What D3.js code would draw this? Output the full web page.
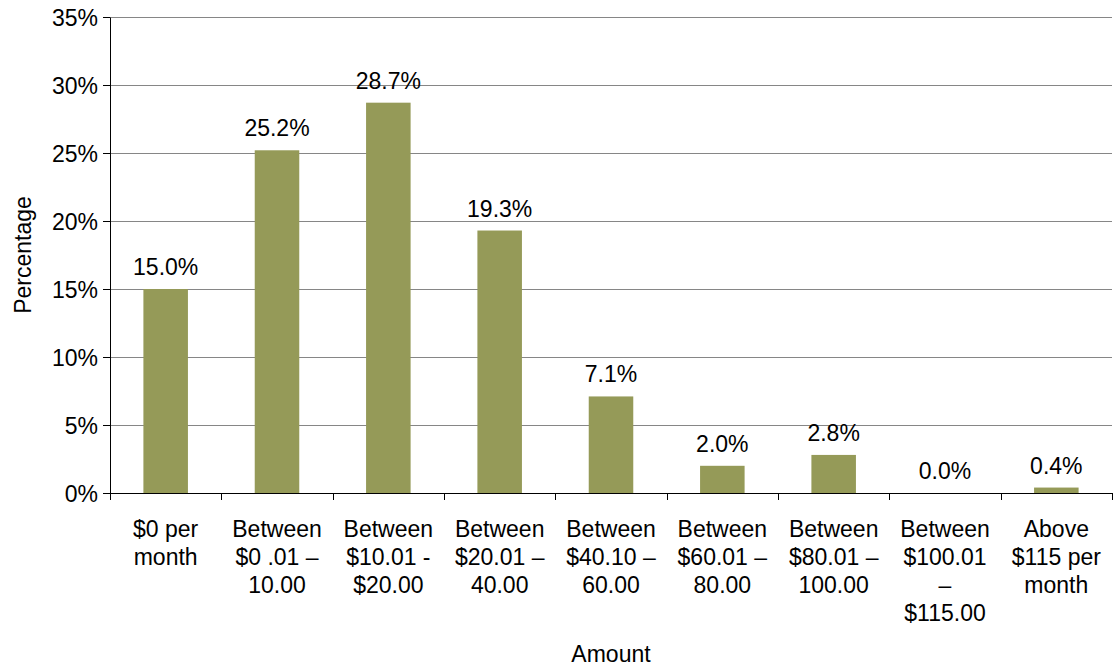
<!DOCTYPE html>
<html>
<head>
<meta charset="utf-8">
<script src="https://cdn.jsdelivr.net/npm/d3@7"></script>
<style>
  body { margin: 0; background: #fff; }
  text { font-family: "Liberation Sans", Arial, sans-serif; fill: #000; font-size: 23px; }
  .grid line { stroke: #868686; stroke-width: 1px; }
</style>
</head>
<body>
<svg width="1114" height="669"></svg>
<script>
var categories = [
  ["$0 per", "month"],
  ["Between", "$0 .01 \u2013", "10.00"],
  ["Between", "$10.01 -", "$20.00"],
  ["Between", "$20.01 \u2013", "40.00"],
  ["Between", "$40.10 \u2013", "60.00"],
  ["Between", "$60.01 \u2013", "80.00"],
  ["Between", "$80.01 \u2013", "100.00"],
  ["Between", "$100.01", "\u2013", "$115.00"],
  ["Above", "$115 per", "month"]
];
var values = [15.0, 25.2, 28.7, 19.3, 7.1, 2.0, 2.8, 0.0, 0.4];
var yTicks = [0, 5, 10, 15, 20, 25, 30, 35];

var margin = {left: 110, top: 17, right: 2, bottom: 176},
    width = 1114 - margin.left - margin.right,
    height = 669 - margin.top - margin.bottom;

var svg = d3.select("svg");
var g = svg.append("g").attr("transform", "translate(" + margin.left + "," + margin.top + ")");

var x = d3.scaleBand()
    .domain(d3.range(categories.length))
    .range([0, width])
    .paddingInner(0.6)
    .paddingOuter(0.3);

var xb = d3.scaleBand()
    .domain(d3.range(categories.length))
    .range([0, width]);

var y = d3.scaleLinear().domain([0, 35]).range([height, 0]);

// gridlines
g.append("g").attr("class", "grid")
  .selectAll("line")
  .data(yTicks.slice(1))
  .enter().append("line")
    .attr("x1", 0).attr("x2", width)
    .attr("y1", function(d) { return Math.round(y(d)) + 0.5; })
    .attr("y2", function(d) { return Math.round(y(d)) + 0.5; });

// bars
g.selectAll(".bar")
  .data(values)
  .enter().append("rect")
    .attr("class", "bar")
    .attr("x", function(d, i) { return x(i); })
    .attr("width", x.bandwidth())
    .attr("y", function(d) { return y(d); })
    .attr("height", function(d) { return height - y(d); })
    .attr("fill", "#959a58");

// data labels
g.selectAll(".lbl")
  .data(values)
  .enter().append("text")
    .attr("x", function(d, i) { return x(i) + x.bandwidth() / 2; })
    .attr("y", function(d) { return y(d) - 14; })
    .attr("text-anchor", "middle")
    .text(function(d) { return d.toFixed(1) + "%"; });

// y axis
var yAxis = g.append("g")
    .call(d3.axisLeft(y).tickValues(yTicks).tickSize(7).tickPadding(12)
      .tickFormat(function(d) { return d + "%"; }));
yAxis.select(".domain").attr("d", "M0.5," + height + "V0.5").attr("stroke", "#000");
yAxis.selectAll(".tick line").attr("stroke", "#000");
yAxis.selectAll("text").style("font-size", "23px").attr("x", -12).attr("dy", "0.35em");

// x axis
var xAxis = g.append("g").attr("transform", "translate(0," + height + ")");
xAxis.append("line")
    .attr("x1", 0).attr("x2", width)
    .attr("y1", 0.5).attr("y2", 0.5)
    .attr("stroke", "#000");
xAxis.selectAll(".xt")
  .data(d3.range(categories.length + 1))
  .enter().append("line")
    .attr("x1", function(d) { return Math.round(d * xb.bandwidth()) + 0.5; })
    .attr("x2", function(d) { return Math.round(d * xb.bandwidth()) + 0.5; })
    .attr("y1", 0).attr("y2", 7)
    .attr("stroke", "#000");

xAxis.selectAll(".xl")
  .data(categories)
  .enter().append("text")
    .attr("text-anchor", "middle")
    .attr("transform", function(d, i) { return "translate(" + (xb(i) + xb.bandwidth() / 2) + ",44)"; })
    .selectAll("tspan")
    .data(function(d) { return d; })
    .enter().append("tspan")
      .attr("x", 0)
      .attr("y", function(d, i) { return i * 28; })
      .text(function(d) { return d; });

// axis titles
svg.append("text")
    .attr("transform", "translate(31," + (margin.top + height / 2) + ") rotate(-90)")
    .attr("text-anchor", "middle")
    .text("Percentage");

svg.append("text")
    .attr("x", margin.left + width / 2)
    .attr("y", 662)
    .attr("text-anchor", "middle")
    .text("Amount");
</script>
</body>
</html>
